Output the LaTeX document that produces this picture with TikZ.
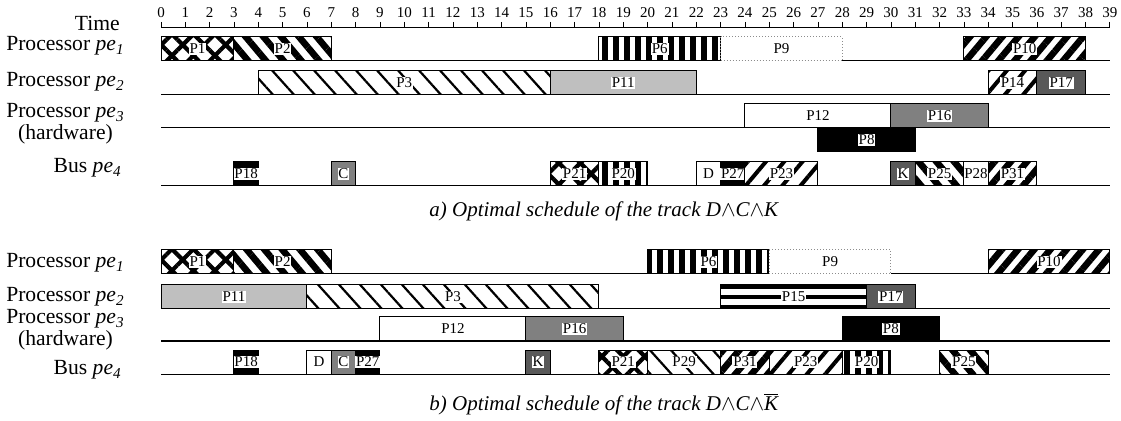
\documentclass[tikz,border=0pt]{standalone}
\usepackage{fontspec}
\setmainfont{Liberation Serif}
\usetikzlibrary{patterns.meta}

% one bar of the schedule: name, start, end, bottom row, look, text
\newcommand{\job}[6]{%
  \draw[box,#5] (#2,#4-24) rectangle (#3,#4);
  \node[tag] (#1) at ({(#2+#3)/2},#4-12) {#6};
}

\begin{document}
\begin{tikzpicture}[x=12.165pt,y=-0.5pt]
\tikzstyle{box}=[draw=black,line width=0.5pt]
\tikzstyle{tag}=[fill=white,inner sep=0.4pt,font=\fontsize{7.5}{8}\selectfont]
\tikzstyle{row}=[anchor=east,inner sep=0pt,font=\fontsize{10.8}{7.5}\selectfont,align=center]
\tikzstyle{capt}=[font=\fontsize{10.5}{12}\selectfont\itshape]
\tikzstyle{cross}=[pattern={Hatch[angle=45,distance=7.6pt,line width=2.1pt]}]
\tikzstyle{bsthick}=[pattern={Lines[angle=-50,distance=6.8pt,line width=3.3pt]}]
\tikzstyle{bsthin}=[pattern={Lines[angle=-48,distance=7.8pt,line width=1.1pt]}]
\tikzstyle{fsthick}=[pattern={Lines[angle=50,distance=6.2pt,line width=3.3pt]}]
\tikzstyle{fsmid}=[pattern={Lines[angle=50,distance=7pt,line width=2pt]}]
\tikzstyle{vert}=[pattern={Lines[angle=90,distance=5.5pt,line width=2.7pt]}]
\tikzstyle{horiz}=[fill=black,path picture={
  \foreach \d in {2pt,7pt}
    \fill[white] ([yshift=-\d]path picture bounding box.north west)
      rectangle ([yshift=-\d-3pt]path picture bounding box.north east);}]
\tikzstyle{light}=[fill=black!25]
\tikzstyle{mid}=[fill=black!50]
\tikzstyle{dark}=[fill=black!65]
\tikzstyle{inked}=[fill=black]
\tikzstyle{blank}=[fill=white]
\tikzstyle{faint}=[fill=white,draw=black!45,densely dotted]
\useasboundingbox (-6.6174,0) rectangle (39.457,421);

% time axis
\node[row] (time) at (-1.68,23) {Time};
\draw[line width=0.5pt] (0,28) -- (39,28);
\foreach \i in {0,...,39} {
  \draw[line width=0.4pt] (\i,22) -- (\i,28);
  \node[font=\fontsize{7.5}{8}\selectfont,inner sep=0pt] (t\i) at (\i,13) {\i};
}

% row lines
\foreach \y in {61,95,128,186,274,309,341,374}
  \draw[line width=0.5pt] (0,\y) -- (39,\y);

% a) labels
\node[row] (a1) at (-1.48,46) {Processor \textit{pe}\textsubscript{\itshape 1}};
\node[row] (a2) at (-1.48,82) {Processor \textit{pe}\textsubscript{\itshape 2}};
\node[row] (a3) at (-1.48,124) {Processor \textit{pe}\textsubscript{\itshape 3}\\(hardware)};
\node[row] (a4) at (-1.6,168) {Bus \textit{pe}\textsubscript{\itshape 4}};

% a) pe1
\job{aP1}{0}{3}{61}{cross}{P1}
\job{aP2}{3}{7}{61}{bsthick}{P2}
\job{aP6}{18}{23}{61}{vert}{P6}
\job{aP9}{23}{28}{61}{faint}{P9}
\job{aP10}{33}{38}{61}{fsthick}{P10}
% a) pe2
\job{aP3}{4}{16}{95}{bsthin}{P3}
\job{aP11}{16}{22}{95}{light}{P11}
\job{aP14}{34}{36}{95}{fsmid}{P14}
\job{aP17}{36}{38}{95}{dark}{P17}
% a) pe3
\job{aP12}{24}{30}{128}{blank}{P12}
\job{aP16}{30}{34}{128}{mid}{P16}
\job{aP8}{27}{31}{152}{inked}{P8}
% a) bus
\job{aP18}{3}{4}{186}{inked}{P18}
\job{aC}{7}{8}{186}{mid}{C}
\job{aP21}{16}{18}{186}{cross}{P21}
\job{aP20}{18}{20}{186}{vert}{P20}
\job{aD}{22}{23}{186}{blank}{D}
\job{aP27}{23}{24}{186}{inked}{P27}
\job{aP23}{24}{27}{186}{fsmid}{P23}
\job{aK}{30}{31}{186}{dark}{K}
\job{aP25}{31}{33}{186}{bsthick}{P25}
\job{aP28}{33}{34}{186}{blank}{P28}
\job{aP31}{34}{36}{186}{fsthick}{P31}

\node[capt] (capa) at (18.2,211) {a) Optimal schedule of the track D$\wedge$C$\wedge$K};

% b) labels
\node[row] (b1) at (-1.48,263) {Processor \textit{pe}\textsubscript{\itshape 1}};
\node[row] (b2) at (-1.48,297) {Processor \textit{pe}\textsubscript{\itshape 2}};
\node[row] (b3) at (-1.48,330) {Processor \textit{pe}\textsubscript{\itshape 3}\\(hardware)};
\node[row] (b4) at (-1.6,370) {Bus \textit{pe}\textsubscript{\itshape 4}};

% b) pe1
\job{bP1}{0}{3}{274}{cross}{P1}
\job{bP2}{3}{7}{274}{bsthick}{P2}
\job{bP6}{20}{25}{274}{vert}{P6}
\job{bP9}{25}{30}{274}{faint}{P9}
\job{bP10}{34}{39}{274}{fsthick}{P10}
% b) pe2
\job{bP11}{0}{6}{309}{light}{P11}
\job{bP3}{6}{18}{309}{bsthin}{P3}
\job{bP15}{23}{29}{309}{horiz}{P15}
\job{bP17}{29}{31}{309}{dark}{P17}
% b) pe3
\job{bP12}{9}{15}{341}{blank}{P12}
\job{bP16}{15}{19}{341}{mid}{P16}
\job{bP8}{28}{32}{341}{inked}{P8}
% b) bus
\job{bP18}{3}{4}{374}{inked}{P18}
\job{bD}{6}{7}{374}{blank}{D}
\job{bC}{7}{8}{374}{mid}{C}
\job{bP27}{8}{9}{374}{inked}{P27}
\job{bK}{15}{16}{374}{dark}{K}
\job{bP21}{18}{20}{374}{cross}{P21}
\job{bP29}{20}{23}{374}{bsthin}{P29}
\job{bP31}{23}{25}{374}{fsthick}{P31}
\job{bP23}{25}{28}{374}{fsmid}{P23}
\job{bP20}{28}{30}{374}{vert}{P20}
\job{bP25}{32}{34}{374}{bsthick}{P25}

\node[capt] (capb) at (18.2,404) {b) Optimal schedule of the track D$\wedge$C$\wedge$$\overline{\mbox{\itshape K}}$};
\end{tikzpicture}
\end{document}
